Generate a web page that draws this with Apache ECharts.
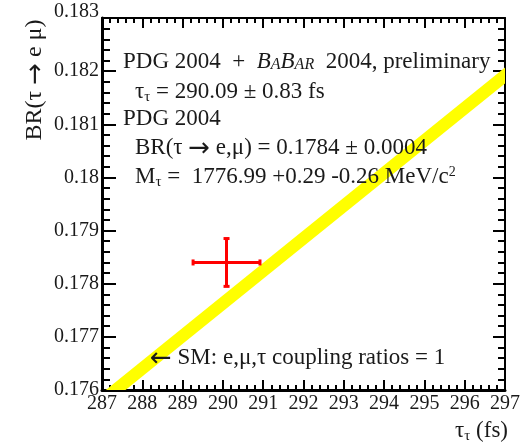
<!DOCTYPE html>
<html><head><meta charset="utf-8">
<script src="https://cdn.jsdelivr.net/npm/echarts@6/dist/echarts.min.js"></script>
<style>html,body{margin:0;padding:0;background:#fff}#c{width:523px;height:446px}</style>
</head><body><div id="c"></div>
<script>
// ---- data ----
const xTickLabels = ['287','288','289','290','291','292','293','294','295','296','297'];
const yTickLabels = ['0.176','0.177','0.178','0.179','0.18','0.181','0.182','0.183'];
const xRange = [287, 297];
const yRange = [0.176, 0.183];
// SM prediction band (BR proportional to lifetime)
const smTau = [286.8, 297.2];
const smBR = [0.17567, 0.18204];
const smHalfWidth = [0.00015, 0.00015];
// measurement point
const measTau = [290.09];
const measBR = [0.1784];
const measTauErr = [0.83];
const measBRErr = [0.00045];

const FONT = '"Liberation Serif","Times New Roman","DejaVu Serif",serif';
const ARROWFONT = '"DejaVu Sans","DejaVu Serif",sans-serif';
const TXT = '#1a1a1a';

const chart = echarts.init(document.getElementById('c'), null, {renderer: 'canvas'});

function axisCommon(extra) {
  return Object.assign({
    type: 'value',
    splitLine: {show: false},
    axisLine: {show: true, onZero: false, lineStyle: {color: '#000', width: 3}},
    axisTick: {show: true, inside: true, length: 10, lineStyle: {color: '#000', width: 2}},
    minorTick: {show: true, splitNumber: 5, length: 5, lineStyle: {color: '#000', width: 2}},
    minorSplitLine: {show: false}
  }, extra);
}

const rich = {
  sub: {fontFamily: FONT, fontSize: 15, color: TXT, padding: [10, 0, 0, 0]},
  sup: {fontFamily: FONT, fontSize: 14, color: TXT, padding: [0, 0, 10, 0]},
  bi: {fontFamily: FONT, fontSize: 23, fontStyle: 'italic', color: TXT},
  bs: {fontFamily: FONT, fontSize: 16, fontStyle: 'italic', color: TXT, padding: [5, 0, 0, 0]},
  ar: {fontFamily: ARROWFONT, fontSize: 26, color: TXT, padding: [2, 0, 0, 0]}
};

function txt(x, y, text, extra) {
  return {
    type: 'text', x: x, y: y, z: 100, silent: true,
    style: Object.assign({
      text: text, fontFamily: FONT, fontSize: 23, fill: TXT,
      align: 'left', verticalAlign: 'middle', rich: rich
    }, extra || {})
  };
}

const option = {
  animation: false,
  backgroundColor: '#fff',
  grid: {left: 102, right: 16, top: 18, bottom: 56, containLabel: false},
  xAxis: [
    axisCommon({
      position: 'bottom', min: xRange[0], max: xRange[1], interval: 1,
      axisLabel: {
        fontFamily: FONT, fontSize: 20, color: TXT, margin: 4,
        formatter: v => xTickLabels[Math.round(v - xRange[0])]
      }
    }),
    axisCommon({
      position: 'top', min: xRange[0], max: xRange[1], interval: 1,
      axisLine: {show: true, onZero: false, lineStyle: {color: '#000', width: 2}},
      axisLabel: {show: false}
    })
  ],
  yAxis: [
    axisCommon({
      position: 'left', min: yRange[0], max: yRange[1], interval: 0.001,
      axisTick: {show: true, inside: true, length: 14, lineStyle: {color: '#000', width: 2}},
      minorTick: {show: true, splitNumber: 5, length: 8, lineStyle: {color: '#000', width: 2}},
      axisLabel: {
        fontFamily: FONT, fontSize: 20, color: TXT, margin: 3,
        formatter: v => {
          const i = Math.round((v - yRange[0]) / 0.001);
          const s = yTickLabels[i];
          return i === yTickLabels.length - 1 ? '{top|' + s + '}' : s;
        },
        rich: {top: {fontFamily: FONT, fontSize: 20, color: TXT, padding: [0, 0, 12, 0]}}
      }
    }),
    axisCommon({
      position: 'right', min: yRange[0], max: yRange[1], interval: 0.001,
      axisLine: {show: true, onZero: false, lineStyle: {color: '#000', width: 2}},
      axisTick: {show: true, inside: true, length: 12, lineStyle: {color: '#000', width: 2}},
      minorTick: {show: true, splitNumber: 5, length: 7, lineStyle: {color: '#000', width: 2}},
      axisLabel: {show: false}
    })
  ],
  series: [
    {
      type: 'custom', name: 'SM', clip: true, z: 2,
      data: [[smTau[0], smBR[0], smTau[1], smBR[1], smHalfWidth[0], smHalfWidth[1]]],
      encode: {x: [0, 2], y: [1, 3]},
      renderItem: function (params, api) {
        const x0 = api.value(0), y0 = api.value(1), x1 = api.value(2), y1 = api.value(3);
        const h0 = api.value(4), h1 = api.value(5);
        const pts = [
          api.coord([x0, y0 - h0]), api.coord([x1, y1 - h1]),
          api.coord([x1, y1 + h1]), api.coord([x0, y0 + h0])
        ];
        return {type: 'polygon', shape: {points: pts}, style: {fill: '#ffff00', stroke: null}};
      }
    },
    {
      type: 'custom', name: 'measurement', clip: true, z: 5,
      data: measTau.map((t, i) => [t, measBR[i], measTauErr[i], measBRErr[i]]),
      encode: {x: 0, y: 1},
      renderItem: function (params, api) {
        const t = api.value(0), b = api.value(1), et = api.value(2), eb = api.value(3);
        const L = api.coord([t - et, b]), R = api.coord([t + et, b]);
        const T = api.coord([t, b + eb]), B = api.coord([t, b - eb]);
        const st = {stroke: '#ff0000', lineWidth: 3, fill: null};
        const cap = 3;
        const mk = (a, c) => ({type: 'line', shape: {x1: a[0], y1: a[1], x2: c[0], y2: c[1]}, style: st});
        return {type: 'group', children: [
          mk(L, R), mk(T, B),
          mk([L[0], L[1] - cap], [L[0], L[1] + cap]),
          mk([R[0], R[1] - cap], [R[0], R[1] + cap]),
          mk([T[0] - cap, T[1]], [T[0] + cap, T[1]]),
          mk([B[0] - cap, B[1]], [B[0] + cap, B[1]])
        ]};
      }
    }
  ],
  graphic: [
    txt(123, 62, 'PDG 2004  +  {bi|B}{bs|A}{bi|B}{bs|AR}  2004, preliminary'),
    txt(135, 92, 'τ{sub|τ} = 290.09 ± 0.83 fs'),
    txt(123, 119, 'PDG 2004'),
    txt(135, 148, 'BR(τ {ar|→} e,μ) = 0.1784 ± 0.0004'),
    txt(135, 177, 'M{sub|τ} =  1776.99 +0.29 -0.26 MeV/c{sup|2}'),
    txt(150, 358, '{ar|←} SM: e,μ,τ coupling ratios = 1'),
    txt(508, 431, 'τ{sub|τ} (fs)', {align: 'right'}),
    {
      type: 'text', x: 35, y: 80, rotation: Math.PI / 2, z: 100, silent: true,
      style: {text: 'BR(τ {ar|→} e μ)', fontFamily: FONT, fontSize: 24, fill: TXT,
              align: 'center', verticalAlign: 'middle', rich: rich}
    }
  ]
};
chart.setOption(option);
</script>
</body></html>
